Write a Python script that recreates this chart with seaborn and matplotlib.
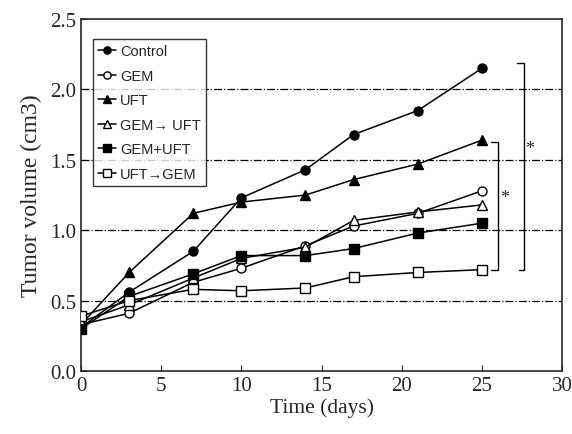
import numpy as np
import pandas as pd

import matplotlib.pyplot as plt
import seaborn as sns

# %% data
days = [0, 3, 7, 10, 14, 17, 21, 25]
control = [0.31, 0.56, 0.85, 1.23, 1.43, 1.68, 1.85, 2.15]
gem = [0.33, 0.41, 0.63, 0.73, 0.89, 1.03, 1.12, 1.28]
uft = [0.33, 0.70, 1.12, 1.20, 1.25, 1.36, 1.47, 1.64]
gem_uft_seq = [0.35, 0.47, 0.66, 0.80, 0.88, 1.07, 1.13, 1.18]
gem_plus_uft = [0.30, 0.53, 0.69, 0.82, 0.82, 0.87, 0.98, 1.05]
uft_gem_seq = [0.39, 0.50, 0.58, 0.57, 0.59, 0.67, 0.70, 0.72]

groups = ["Control", "GEM", "UFT", "GEM\u2192 UFT", "GEM+UFT", "UFT\u2192GEM"]
values = [control, gem, uft, gem_uft_seq, gem_plus_uft, uft_gem_seq]

df = pd.concat(
    pd.DataFrame({"day": days, "volume": v, "group": g}) for g, v in zip(groups, values)
)

# %%
sns.set_style("ticks")
plt.rcParams["font.family"] = ["Liberation Serif", "DejaVu Serif"]

fig = plt.figure(figsize=(5.72, 4.35), dpi=100)
ax = fig.add_axes([0.1416, 0.1448, 0.841, 0.809])

marker_style = {
    "Control": ("o", "black"),
    "GEM": ("o", "white"),
    "UFT": ("^", "black"),
    "GEM\u2192 UFT": ("^", "white"),
    "GEM+UFT": ("s", "black"),
    "UFT\u2192GEM": ("s", "white"),
}

for g in groups:
    m, fc = marker_style[g]
    sns.lineplot(
        data=df[df.group == g], x="day", y="volume", ax=ax,
        color="black", lw=1.1, marker=m, markersize=6.5,
        markerfacecolor=fc, markeredgecolor="black", markeredgewidth=1,
        label=g, zorder=3,
    )

for yv in [0.5, 1.0, 1.5, 2.0]:
    ax.axhline(yv, color="black", lw=0.9, ls="-.", zorder=1)

# significance brackets
ax.plot([27.2, 27.6, 27.6, 27.3], [2.19, 2.19, 0.72, 0.72], color="black", lw=1)
ax.plot([25.6, 26.0, 26.0, 25.6], [1.63, 1.63, 0.72, 0.72], color="black", lw=1)
ax.text(28.0, 1.58, "*", fontsize=13, ha="center", va="center")
ax.text(26.45, 1.23, "*", fontsize=13, ha="center", va="center")

ax.set_xlim(0, 30)
ax.set_ylim(0, 2.5)
ax.set_xticks(range(0, 31, 5))
ax.set_yticks(np.arange(0, 2.51, 0.5))
ax.yaxis.set_major_formatter(plt.FormatStrFormatter("%.1f"))
ax.tick_params(direction="in", labelsize=15, length=4)
ax.set_xlabel("Time (days)", fontsize=15.5, labelpad=2)
ax.set_ylabel("Tumor volume (cm3)", fontsize=17, labelpad=6)
for s in ax.spines.values():
    s.set_linewidth(1.2)

leg = ax.legend(
    loc="upper left", bbox_to_anchor=(0.025, 0.943), borderaxespad=0,
    frameon=True, fancybox=False, edgecolor="black", handlelength=1.2,
    handletextpad=0.3, labelspacing=0.72, borderpad=0.35, markerscale=0.8,
    prop={"family": "Liberation Sans", "size": 10.5},
)
leg.get_frame().set_linewidth(1)

fig.savefig("out.png", dpi=100)
